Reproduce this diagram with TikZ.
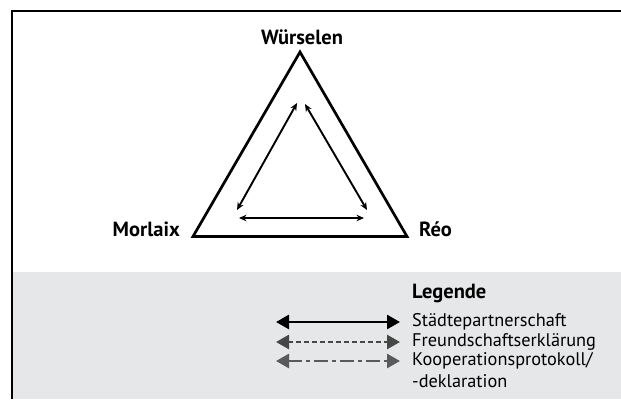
\documentclass[tikz,border=0pt]{standalone}
\usepackage{fontspec}
\setmainfont{PT Sans}
\usetikzlibrary{arrows.meta}
\definecolor{legbg}{HTML}{E6E7E8}
\definecolor{dgray}{HTML}{474747}
\definecolor{mgray}{HTML}{5A5A5A}
\tikzset{
  city/.style={font=\fontsize{20.5}{23}\selectfont\bfseries, inner sep=0pt},
  legtext/.style={font=\fontsize{18.3}{20}\selectfont, anchor=west, inner sep=0pt},
  rel/.style={line width=1.9pt, {Stealth[length=7.5pt,width=6.5pt]}-{Stealth[length=7.5pt,width=6.5pt]}},
  legarrow/.style={line width=2.7pt, {Triangle[length=13pt,width=14pt]}-{Triangle[length=13pt,width=14pt]}},
}
\begin{document}
\begin{tikzpicture}[x=1pt,y=-1pt]
\useasboundingbox (0,0) rectangle (621,399);
\fill[legbg] (12,272) rectangle (621,399);
\draw[line width=2pt] (12,399) -- (12,11) -- (621,11);
% triangle
\coordinate (W) at (300,52);
\coordinate (M) at (193,236.5);
\coordinate (R) at (407,236.5);
\draw[line width=2.7pt, line join=miter] (W) -- (M) -- (R) -- cycle;
\node[city] (lw) at (302,37) {Würselen};
\node[city, anchor=east] (lm) at (180,229) {Morlaix};
\node[city, anchor=west] (lr) at (419,229) {Réo};
% inner arrows
\coordinate (a1) at (297,103);
\coordinate (a2) at (237,210);
\coordinate (b1) at (305,104);
\coordinate (b2) at (367,210);
\coordinate (c1) at (239,218);
\coordinate (c2) at (364,218);
\draw[rel] (a2) -- (a1);
\draw[rel] (b1) -- (b2);
\draw[rel] (c1) -- (c2);
% legend
\node[city, anchor=west] (leg) at (412,293) {Legende};
\coordinate (l1a) at (276,322); \coordinate (l1b) at (400,322);
\coordinate (l2a) at (276,342); \coordinate (l2b) at (400,342);
\coordinate (l3a) at (276,361); \coordinate (l3b) at (400,361);
\draw[legarrow, black] (l1a) -- (l1b);
\draw[legarrow, dgray, dash pattern=on 5pt off 3pt] (l2a) -- (l2b);
\draw[legarrow, mgray, dash pattern=on 14pt off 4pt on 4pt off 4pt] (l3a) -- (l3b);
\node[legtext] (t1) at (412,322) {Städtepartnerschaft};
\node[legtext] (t2) at (412,342) {Freundschaftserklärung};
\node[legtext] (t3) at (412,361) {Kooperationsprotokoll/};
\node[legtext] (t4) at (412,381) {-deklaration};
\end{tikzpicture}
\end{document}
